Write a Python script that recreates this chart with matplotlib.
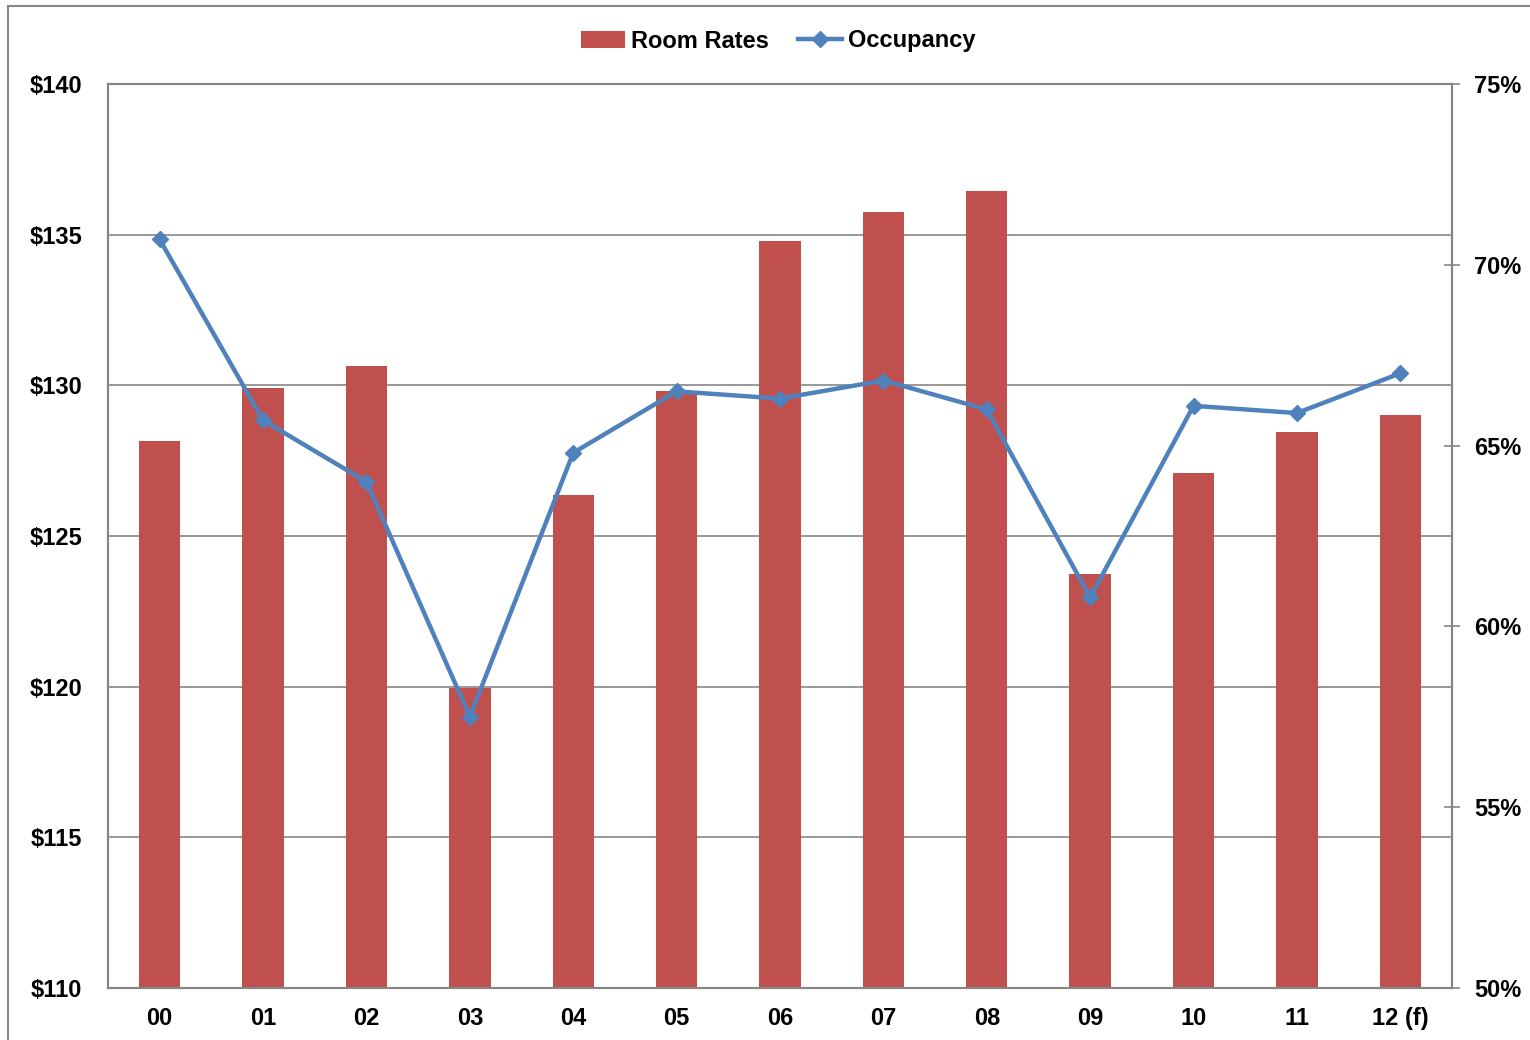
import matplotlib.pyplot as plt
from matplotlib.lines import Line2D
from matplotlib.patches import Patch, Rectangle

years = ['00', '01', '02', '03', '04', '05', '06', '07', '08', '09', '10', '11', '12 (f)']
room_rates = [128.15, 129.9, 130.65, 119.95, 126.35, 129.8, 134.8, 135.75, 136.45, 123.75, 127.1, 128.45, 129.0]
occupancy = [70.7, 65.7, 64.0, 57.5, 64.8, 66.5, 66.3, 66.8, 66.0, 60.8, 66.1, 65.9, 67.0]

bar_color = '#C0504D'
line_color = '#4F81BD'
grey = '#868686'

plt.rcParams['font.family'] = ['Liberation Sans', 'DejaVu Sans']
plt.rcParams['font.weight'] = 'bold'
fs = 17

fig = plt.figure(figsize=(15.3, 10.4), dpi=100)
fig.patches.append(Rectangle((8 / 1530, -0.1), 1.2, (1040 - 6) / 1040 + 0.1,
                             transform=fig.transFigure, fill=False,
                             edgecolor=grey, linewidth=1.5))

ax = fig.add_axes([108 / 1530, 1 - 988 / 1040, (1452 - 108) / 1530, (988 - 84) / 1040])
x = list(range(len(years)))
ax.bar(x, room_rates, width=0.4, color=bar_color, zorder=2)
ax.set_ylim(110, 140)
ax.set_xlim(-0.5, len(years) - 0.5)
ax.set_yticks([110, 115, 120, 125, 130, 135, 140])
ax.set_yticklabels(['$%d' % v for v in [110, 115, 120, 125, 130, 135, 140]])
ax.set_xticks(x)
ax.set_xticklabels(years)
ax.tick_params(axis='y', length=0, pad=18.5, labelsize=fs)
ax.tick_params(axis='x', length=0, pad=14, labelsize=fs)
ax.yaxis.grid(True, color=grey, linewidth=1.2, zorder=0)
ax.set_axisbelow(True)
for s in ax.spines.values():
    s.set_color(grey)
    s.set_linewidth(1.5)

ax2 = ax.twinx()
ax2.plot(x, occupancy, color=line_color, linewidth=3.2, marker='D', markersize=8, zorder=3)
ax2.set_ylim(50, 75)
ax2.set_yticks([50, 55, 60, 65, 70, 75])
ax2.set_yticklabels(['%d%%' % v for v in [50, 55, 60, 65, 70, 75]])
ax2.tick_params(axis='y', direction='inout', length=12, width=1.2, color=grey, pad=10, labelsize=fs)
for s in ax2.spines.values():
    s.set_color(grey)
    s.set_linewidth(1.5)

handles = [Patch(facecolor=bar_color, edgecolor='none'),
           Line2D([], [], color=line_color, linewidth=3.2, marker='D', markersize=8)]
fig.legend(handles, ['Room Rates', 'Occupancy'], loc='center', bbox_to_anchor=(778 / 1530, 1 - 41 / 1040),
           ncol=2, frameon=False, fontsize=fs, handlelength=1.85, handletextpad=0.25, columnspacing=1.25)

fig.savefig('out.png', dpi=100)
